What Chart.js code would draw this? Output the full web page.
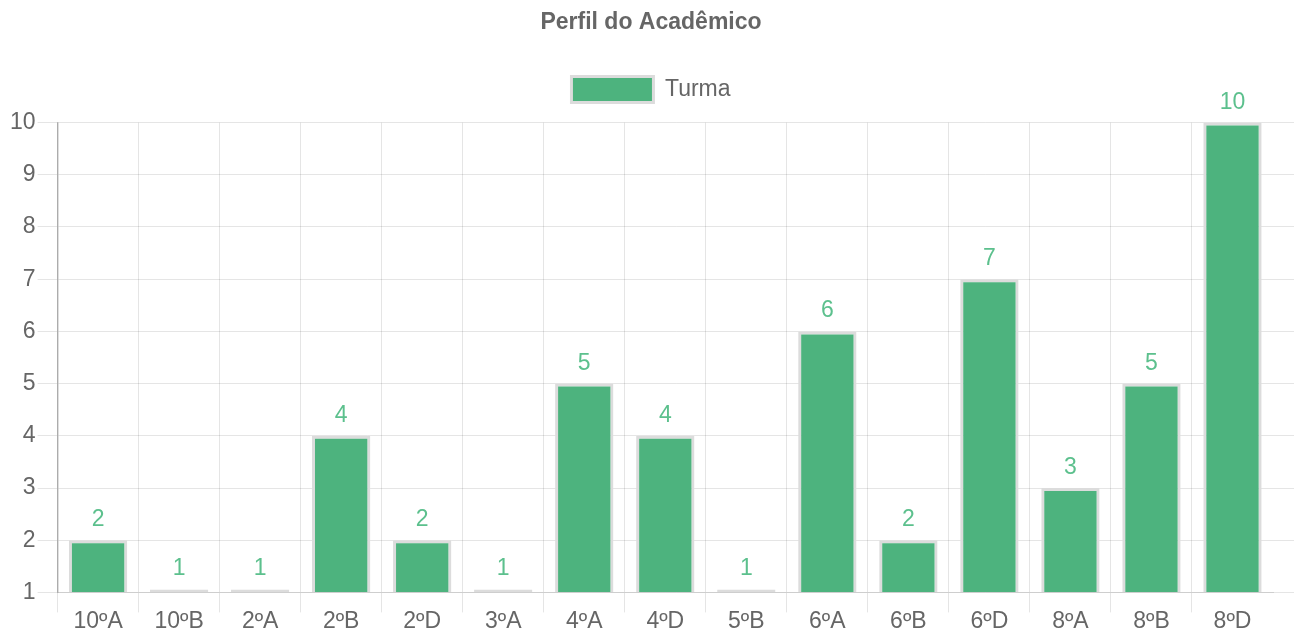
<!DOCTYPE html>
<html>
<head>
<meta charset="utf-8">
<script src="https://cdn.jsdelivr.net/npm/chart.js@4/dist/chart.umd.min.js"></script>
<style>
  html, body { margin: 0; padding: 0; background: #fff; }
  #wrap { width: 1306px; height: 636px; }
</style>
</head>
<body>
<div id="wrap"><canvas id="perfilChart"></canvas></div>
<script>
  const turmas = ['10ºA', '10ºB', '2ºA', '2ºB', '2ºD', '3ºA', '4ºA', '4ºD', '5ºB', '6ºA', '6ºB', '6ºD', '8ºA', '8ºB', '8ºD'];
  const alunos = [2, 1, 1, 4, 2, 1, 5, 4, 1, 6, 2, 7, 3, 5, 10];
  const yTicks = [1, 2, 3, 4, 5, 6, 7, 8, 9, 10];

  const green = '#4db37e';
  const labelGreen = '#5cc08d';
  const gray = '#666';
  const gridColor = 'rgba(0,0,0,0.1)';

  Chart.defaults.font.family = "'Liberation Sans', Arial, sans-serif";
  Chart.defaults.font.size = 23;
  Chart.defaults.color = gray;

  // value above each bar (stand-in for the datalabels plugin)
  const valueLabels = {
    id: 'valueLabels',
    afterDatasetsDraw(chart) {
      const ctx = chart.ctx;
      const meta = chart.getDatasetMeta(0);
      ctx.save();
      ctx.font = "23px 'Liberation Sans', Arial, sans-serif";
      ctx.fillStyle = labelGreen;
      ctx.textAlign = 'center';
      ctx.textBaseline = 'alphabetic';
      meta.data.forEach((bar, i) => {
        const top = Math.min(bar.y, bar.base);
        ctx.fillText(String(alunos[i]), bar.x, top - 14);
      });
      ctx.restore();
    }
  };

  // the category axis stops a little short of the plot's right edge
  const shortXAxis = {
    id: 'shortXAxis',
    afterLayout(chart) {
      const x = chart.scales.x;
      x.right -= 21;
      x.width = x.right - x.left;
      x.configure();
    }
  };

  new Chart(document.getElementById('perfilChart'), {
    type: 'bar',
    data: {
      labels: turmas,
      datasets: [{
        label: 'Turma',
        data: alunos,
        base: yTicks[0],
        backgroundColor: green,
        borderColor: '#dcdcdc',
        borderWidth: 3,
        // bars sitting on the base show only as a grey line
        borderSkipped: (c) => alunos[c.dataIndex] === yTicks[0] ? false : 'start',
        minBarLength: 3,
        clip: false
      }]
    },
    options: {
      responsive: true,
      maintainAspectRatio: false,
      animation: false,
      layout: { padding: { left: 8, right: 12, top: 0, bottom: 6 } },
      plugins: {
        title: {
          display: true,
          text: 'Perfil do Acadêmico',
          color: gray,
          font: { size: 23, weight: 'bold' },
          padding: { top: 9, bottom: 20 }
        },
        legend: {
          labels: { boxWidth: 82, boxHeight: 26, color: gray, padding: 20 }
        },
        tooltip: { enabled: false }
      },
      scales: {
        x: {
          grid: {
            color: (c) => c.tick ? gridColor : 'transparent',
            tickLength: 20
          },
          border: { color: gridColor },
          ticks: { padding: -5, color: gray }
        },
        // empty strip between the legend and the plot
        xTop: {
          type: 'category',
          position: 'top',
          grid: { display: false },
          border: { display: false },
          ticks: { display: false },
          afterFit: (scale) => { scale.height = 10; }
        },
        y: {
          min: yTicks[0],
          max: yTicks[yTicks.length - 1],
          grid: { color: gridColor, tickLength: 20 },
          border: { color: 'rgba(0,0,0,0.25)', width: 1.5 },
          ticks: { stepSize: 1, padding: 2, color: gray }
        }
      }
    },
    plugins: [valueLabels, shortXAxis]
  });
</script>
</body>
</html>
